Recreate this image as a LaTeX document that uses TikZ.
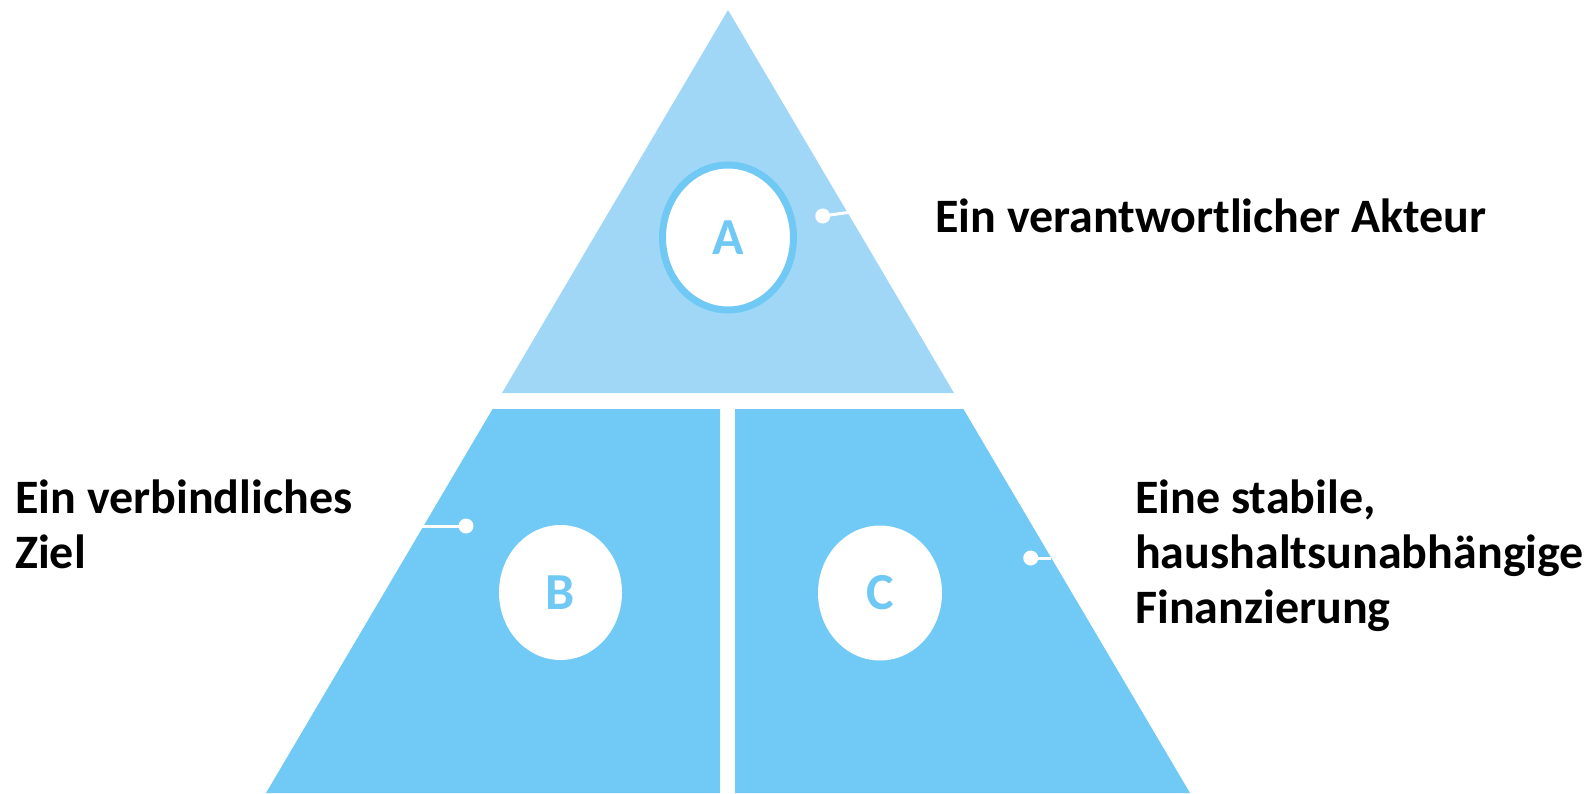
\documentclass[tikz,border=0pt]{standalone}
\usepackage{fontspec}
\setmainfont{Carlito}
\usetikzlibrary{shapes.geometric}
\definecolor{topblue}{HTML}{A1D7F6}
\definecolor{botblue}{HTML}{71C9F5}
\definecolor{ringblue}{HTML}{70C8F4}
\begin{document}
\begin{tikzpicture}[x=1pt,y=-1pt,
  lbl/.style={font=\fontsize{48}{55}\selectfont\bfseries, align=left, anchor=base west, inner sep=0pt, text=black},
  badge/.style={ellipse, fill=white, inner sep=0pt, text=ringblue, font=\fontsize{52}{60}\selectfont\bfseries},
  conn/.style={draw=white, line width=3pt},
  dotc/.style={fill=white}]
\useasboundingbox (0,0) rectangle (1593,793);
% pyramid pieces
\fill[topblue] (728,10) -- (954,393) -- (502,393) -- cycle;
\fill[botblue] (492.6,409) -- (720,409) -- (720,793) -- (266,793) -- cycle;
\fill[botblue] (735,409) -- (963.4,409) -- (1190,793) -- (735,793) -- cycle;
% badges
\node[badge, draw=ringblue, line width=7pt, minimum width=131pt, minimum height=145pt] (A) at (728,237.5) {A};
\node[badge, minimum width=123pt, minimum height=135pt] (B) at (560.5,592.5) {B};
\node[badge, minimum width=124pt, minimum height=135pt] (C) at (880,593) {C};
% connectors
\coordinate (dA) at (822.7,216);
\coordinate (eA) at (848,212.5);
\coordinate (dB) at (466,526);
\coordinate (eB) at (421,526);
\coordinate (dC) at (1030.7,558);
\coordinate (eC) at (1051,558);
\draw[conn] (dA) -- (eA);
\draw[conn] (dB) -- (eB);
\draw[conn] (dC) -- (eC);
\fill[dotc] (dA) circle (7.5);
\fill[dotc] (dB) circle (7.5);
\fill[dotc] (dC) circle (7.5);
% labels (base west = baseline of the last line)
\node[lbl] (tA) at (935,232) {Ein verantwortlicher Akteur};
\node[lbl] (tB) at (15,568) {Ein verbindliches\\Ziel};
\node[lbl] (tC) at (1135,623) {Eine stabile,\\haushaltsunabhängige\\Finanzierung};
\end{tikzpicture}
\end{document}
